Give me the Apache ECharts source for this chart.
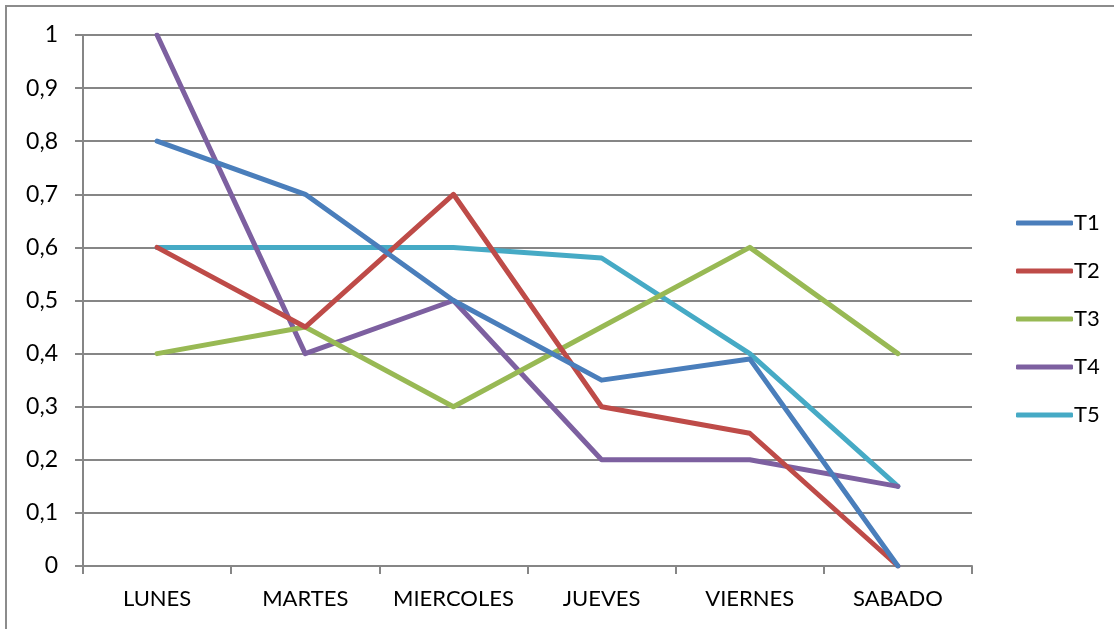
<!DOCTYPE html>
<html>
<head>
<meta charset="utf-8">
<script src="https://cdn.jsdelivr.net/npm/echarts@6/dist/echarts.min.js"></script>
<style>
  html, body { margin: 0; padding: 0; background: #fff; }
  .chart__frame {
    position: absolute;
    left: 5px; top: 5px;
    width: 1200px; height: 700px;
    border: 2px solid #8c8c8c;
    box-sizing: border-box;
  }
  #line-chart { position: absolute; left: 0; top: 0; width: 1114px; height: 629px; }
</style>
</head>
<body>
<div class="chart__frame"></div>
<div id="line-chart"></div>
<script>
const days = ['LUNES', 'MARTES', 'MIERCOLES', 'JUEVES', 'VIERNES', 'SABADO'];
const t1 = [0.8, 0.7, 0.5, 0.35, 0.39, 0];
const t2 = [0.6, 0.45, 0.7, 0.3, 0.25, 0];
const t3 = [0.4, 0.45, 0.3, 0.45, 0.6, 0.4];
const t4 = [1, 0.4, 0.5, 0.2, 0.2, 0.15];
const t5 = [0.6, 0.6, 0.6, 0.58, 0.4, 0.15];
const seriesNames = ['T1', 'T2', 'T3', 'T4', 'T5'];
const colors = ['#4a7ebb', '#be4b48', '#98b954', '#7d60a0', '#46aac5'];

const font = 'Lato, "Open Sans", sans-serif';
const chart = echarts.init(document.getElementById('line-chart'));

function lineSeries(name, data, i) {
  return {
    name: name,
    type: 'line',
    data: data,
    symbol: 'none',
    showSymbol: false,
    itemStyle: { color: colors[i] },
    lineStyle: { width: 5, color: colors[i], cap: 'round', join: 'round' },
    emphasis: { disabled: true },
    z: 10 - i
  };
}

const option = {
  animation: false,
  color: colors,
  grid: { left: 83, right: 142, top: 35, bottom: 63 },
  legend: {
    orient: 'vertical',
    left: 1011,
    top: 207,
    icon: 'roundRect',
    itemWidth: 57,
    itemHeight: 5,
    itemGap: 26,
    textStyle: { fontFamily: font, fontSize: 22, color: '#000', padding: [0, 0, 0, -4] },
    data: seriesNames
  },
  xAxis: {
    type: 'category',
    data: days,
    boundaryGap: true,
    axisLine: { lineStyle: { color: '#868686', width: 2 } },
    axisTick: { show: true, length: 8, lineStyle: { color: '#868686', width: 2 } },
    axisLabel: { interval: 0, fontFamily: font, fontSize: 22, color: '#000', margin: 22 }
  },
  yAxis: {
    type: 'value',
    min: 0, max: 1, interval: 0.1,
    axisLine: { show: true, lineStyle: { color: '#868686', width: 2 } },
    axisTick: { show: true, inside: false, length: 8, lineStyle: { color: '#868686', width: 2 } },
    splitLine: { lineStyle: { color: '#868686', width: 2 } },
    axisLabel: {
      fontFamily: font, fontSize: 23, color: '#000', margin: 25,
      formatter: v => String(Math.round(v * 10) / 10).replace('.', ',')
    }
  },
  series: [
    lineSeries('T1', t1, 0),
    lineSeries('T2', t2, 1),
    lineSeries('T3', t3, 2),
    lineSeries('T4', t4, 3),
    lineSeries('T5', t5, 4)
  ]
};
chart.setOption(option);
</script>
</body>
</html>
